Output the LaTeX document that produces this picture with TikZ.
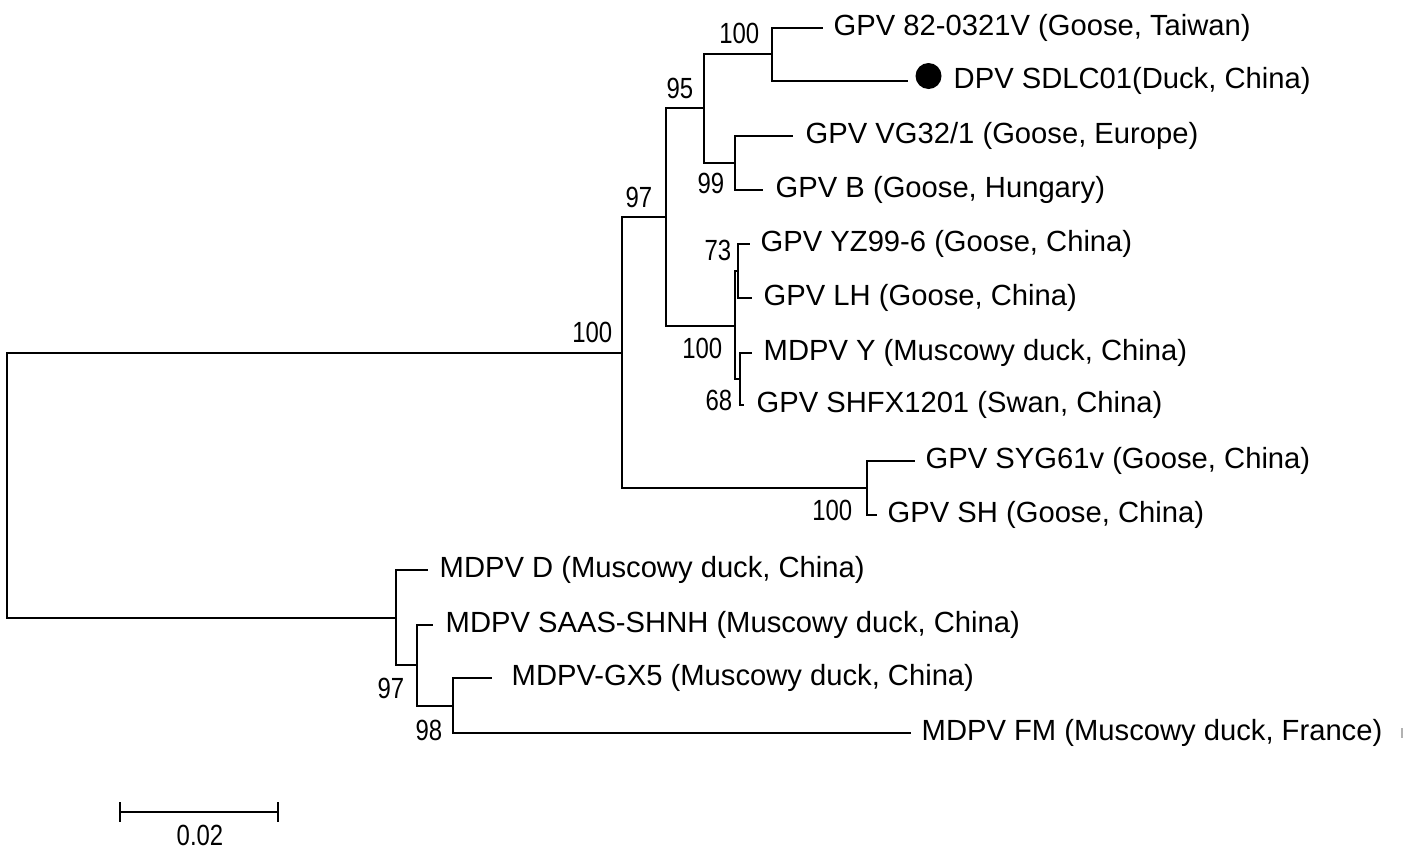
\documentclass[tikz,border=0pt]{standalone}
\usepackage{fontspec}
\setmainfont{Liberation Sans}
\newfontfamily\bsfont[FakeStretch=0.82]{Liberation Sans}
\begin{document}
\begin{tikzpicture}[x=0.01cm,y=-0.01cm,
  br/.style={line width=0.6pt,line join=miter},
  leaf/.style={anchor=base west,inner sep=0pt,font=\fontsize{8.3}{10}\selectfont},
  bs/.style={anchor=base east,inner sep=0pt,font=\bsfont\fontsize{8.3}{10}\selectfont}]
\useasboundingbox (0,0) rectangle (1419,848);
% internal nodes
\coordinate (r) at (7,485);
\coordinate (A) at (622,353);
\coordinate (B) at (396,618);
\coordinate (C) at (666,217);
\coordinate (D) at (704,108);
\coordinate (E) at (772,54);
\coordinate (F) at (735,163);
\coordinate (G) at (735,326);
\coordinate (H) at (738,271);
\coordinate (I) at (740,379);
\coordinate (J) at (867,488);
\coordinate (L) at (417,665);
\coordinate (M) at (453,706);
% leaf tips
\coordinate (t0) at (823,28);
\coordinate (t1) at (908,81);
\coordinate (t2) at (793,136);
\coordinate (t3) at (763,190);
\coordinate (t4) at (750,244);
\coordinate (t5) at (752,298);
\coordinate (t6) at (752,353);
\coordinate (t7) at (744,405);
\coordinate (t8) at (915,461);
\coordinate (t9) at (877,515);
\coordinate (t10) at (428,570);
\coordinate (t11) at (433,625);
\coordinate (t12) at (492,678);
\coordinate (t13) at (911,733);
% branches
\draw[br] (r) |- (A);
\draw[br] (r) |- (B);
\draw[br] (A) |- (C);
\draw[br] (A) |- (J);
\draw[br] (C) |- (D);
\draw[br] (C) |- (G);
\draw[br] (D) |- (E);
\draw[br] (D) |- (F);
\draw[br] (E) |- (t0);
\draw[br] (E) |- (t1);
\draw[br] (F) |- (t2);
\draw[br] (F) |- (t3);
\draw[br] (G) |- (H);
\draw[br] (G) |- (I);
\draw[br] (H) |- (t4);
\draw[br] (H) |- (t5);
\draw[br] (I) |- (t6);
\draw[br] (I) |- (t7);
\draw[br] (J) |- (t8);
\draw[br] (J) |- (t9);
\draw[br] (B) |- (t10);
\draw[br] (B) |- (L);
\draw[br] (L) |- (t11);
\draw[br] (L) |- (M);
\draw[br] (M) |- (t12);
\draw[br] (M) |- (t13);
% marker
\fill (928.5,76) circle [radius=13];
% leaf labels
\node[leaf] (l0) at (833,35) {GPV 82-0321V (Goose, Taiwan)};
\node[leaf] (l1) at (953,88) {DPV SDLC01(Duck, China)};
\node[leaf] (l2) at (805,143) {GPV VG32/1 (Goose, Europe)};
\node[leaf] (l3) at (775,197) {GPV B (Goose, Hungary)};
\node[leaf] (l4) at (760,251) {GPV YZ99-6 (Goose, China)};
\node[leaf] (l5) at (763,305) {GPV LH (Goose, China)};
\node[leaf] (l6) at (763,360) {MDPV Y (Muscowy duck, China)};
\node[leaf] (l7) at (756,412) {GPV SHFX1201 (Swan, China)};
\node[leaf] (l8) at (925,468) {GPV SYG61v (Goose, China)};
\node[leaf] (l9) at (887,522) {GPV SH (Goose, China)};
\node[leaf] (l10) at (439,577) {MDPV D (Muscowy duck, China)};
\node[leaf] (l11) at (445,632) {MDPV SAAS-SHNH (Muscowy duck, China)};
\node[leaf] (l12) at (511,685) {MDPV-GX5 (Muscowy duck, China)};
\node[leaf] (l13) at (921,740) {MDPV FM (Muscowy duck, France)};
% bootstrap values
\node[bs] (b1) at (760,43) {100};
\node[bs] (b2) at (694,98) {95};
\node[bs] (b3) at (653,207) {97};
\node[bs] (b4) at (725,193) {99};
\node[bs] (b5) at (732,260) {73};
\node[bs] (b6) at (723,358) {100};
\node[bs] (b7) at (733,410) {68};
\node[bs] (b8) at (613,342) {100};
\node[bs] (b9) at (853,520) {100};
\node[bs] (b10) at (405,698) {97};
\node[bs] (b11) at (443,740) {98};
% scale bar
\coordinate (s1) at (120,812);
\coordinate (s2) at (278,812);
\draw[br] (s1) -- (s2);
\draw[br] ([yshift=0.1cm]s1) -- ([yshift=-0.1cm]s1);
\draw[br] ([yshift=0.1cm]s2) -- ([yshift=-0.1cm]s2);
\node[bs,anchor=base] (sl) at (200,845) {0.02};
% small mark
\coordinate (m1) at (1402,728);
\coordinate (m2) at (1402,738);
\draw[gray!60,line width=0.6pt] (m1) -- (m2);
\end{tikzpicture}
\end{document}
